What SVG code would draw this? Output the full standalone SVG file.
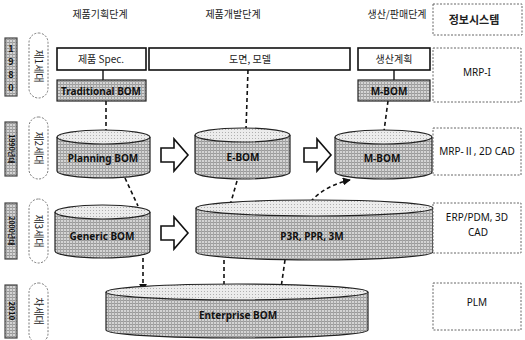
<svg xmlns="http://www.w3.org/2000/svg" width="525" height="340" viewBox="0 0 525 340">
  <style>
    .hdr { font-family: "Noto Sans CJK KR", "Noto Sans", sans-serif; font-size: 10px; fill: #222; text-anchor: middle; }
    .lbl { font-family: "Noto Sans", "Noto Sans CJK KR", sans-serif; font-size: 10px; fill: #111; text-anchor: middle; }
    .bold { font-weight: bold; }
    .box { fill: #fff; stroke: #111; stroke-width: 1.6; }
    .tex { fill: url(#dither); stroke: #222; stroke-width: 1.2; }
    .texTop { fill: url(#ditherLight); stroke: #222; stroke-width: 1.2; }
    .info { fill: #fff; stroke: #666; stroke-width: 1; stroke-dasharray: 2 1.5; }
    .pill { fill: #fff; stroke: #777; stroke-width: 1; stroke-dasharray: 2 1.5; }
    .year { fill: url(#dither); stroke: #444; stroke-width: 1.2; }
    .yr { font-family: "Noto Sans CJK KR", "Noto Sans", sans-serif; font-size: 7px; font-weight: bold; fill: #111; text-anchor: middle; }
    .dash { fill: none; stroke: #111; stroke-width: 1.6; stroke-dasharray: 4 3; }
    .solid { fill: none; stroke: #111; stroke-width: 1.4; }
    .barrow { fill: #fff; stroke: #111; stroke-width: 1.6; stroke-linejoin: miter; }
  </style>
  <defs>
    <pattern id="dither" width="3" height="3" patternUnits="userSpaceOnUse">
      <rect width="3" height="3" fill="#d4d4d4"/>
      <rect width="3" height="1" fill="#9a9a9a"/>
      <rect width="1" height="3" fill="#a6a6a6"/>
    </pattern>
    <pattern id="ditherLight" width="3" height="3" patternUnits="userSpaceOnUse">
      <rect width="3" height="3" fill="#ececec"/>
      <rect width="1" height="1" fill="#b0b0b0"/>
    </pattern>
    <marker id="ah" viewBox="0 0 10 10" refX="9" refY="5" markerWidth="5" markerHeight="5" orient="auto">
      <path d="M0,0 L10,5 L0,10 z" fill="#111"/>
    </marker>
  </defs>

  <!-- stage headers -->
  <g id="headers">
    <text class="hdr" x="100" y="18">제품기획단계</text>
    <text class="hdr" x="233" y="18">제품개발단계</text>
    <text class="hdr" x="397" y="18">생산/판매단계</text>
  </g>

  <!-- generation column -->
  <g id="gen1">
    <rect class="year" x="5" y="38" width="12" height="58"/>
    <text class="yr" style="font-size:9px" x="11" y="52">1</text>
    <text class="yr" style="font-size:9px" x="11" y="65">9</text>
    <text class="yr" style="font-size:9px" x="11" y="78">8</text>
    <text class="yr" style="font-size:9px" x="11" y="91">0</text>
    <rect class="pill" x="29" y="33" width="19" height="65" rx="9.5"/>
    <text class="hdr" transform="translate(35,66) rotate(90)">제1세대</text>
  </g>
  <g id="gen2">
    <rect class="year" x="5" y="122" width="12" height="54"/>
    <text class="yr" transform="translate(8.5,149) rotate(90)">1990년대</text>
    <rect class="pill" x="29" y="117" width="19" height="62" rx="9.5"/>
    <text class="hdr" transform="translate(35,148) rotate(90)">제2세대</text>
  </g>
  <g id="gen3">
    <rect class="year" x="5" y="203" width="12" height="56"/>
    <text class="yr" transform="translate(8.5,231) rotate(90)">2000년대</text>
    <rect class="pill" x="29" y="199" width="19" height="64" rx="9.5"/>
    <text class="hdr" transform="translate(35,231) rotate(90)">제3세대</text>
  </g>
  <g id="gen4">
    <rect class="year" x="5" y="285" width="12" height="53"/>
    <text class="yr" style="font-size:8px" transform="translate(8.5,311) rotate(90)">2010</text>
    <rect class="pill" x="29" y="283" width="19" height="60" rx="9.5"/>
    <text class="hdr" transform="translate(35,311) rotate(90)">차세대</text>
  </g>

  <!-- connectors -->
  <g id="connectors">
    <line class="solid" x1="103" y1="70" x2="103" y2="80"/>
    <line class="solid" x1="394" y1="70" x2="394" y2="80"/>
    <line class="dash" x1="106" y1="101" x2="106" y2="131"/>
    <line class="dash" x1="248" y1="70" x2="246" y2="129"/>
    <line class="dash" x1="388" y1="101" x2="384" y2="131"/>
    <line class="dash" x1="125" y1="178" x2="138" y2="206"/>
    <line class="dash" x1="237" y1="181" x2="229" y2="209"/>
    <path class="dash" d="M306,207 Q322,186 350,180" marker-end="url(#ah)"/>
    <line class="dash" x1="143" y1="258" x2="143" y2="291" marker-end="url(#ah)"/>
    <line class="dash" x1="224" y1="260" x2="224" y2="295" marker-end="url(#ah)"/>
    <line class="dash" x1="285" y1="260" x2="280" y2="295" marker-end="url(#ah)"/>
    <!-- block arrows -->
    <path class="barrow" d="M161,148 H174 V139 L188,155 L174,171 V162 H161 Z"/>
    <path class="barrow" d="M304,148 H317 V139 L331,155 L317,171 V162 H304 Z"/>
    <path class="barrow" d="M161,226 H174 V217 L188,233 L174,249 V240 H161 Z"/>
  </g>

  <!-- first generation boxes -->
  <g id="spec">
    <rect class="box" x="57" y="48" width="89" height="22"/>
    <text class="hdr" x="101" y="63">제품 Spec.</text>
  </g>
  <g id="drawing">
    <rect class="box" x="149" y="48" width="201" height="22"/>
    <text class="hdr" x="250" y="63">도면, 모델</text>
  </g>
  <g id="plan">
    <rect class="box" x="358" y="48" width="72" height="22"/>
    <text class="hdr" x="394" y="63">생산계획</text>
  </g>
  <g id="tradBom">
    <rect class="tex" x="57" y="80" width="89" height="21"/>
    <text class="lbl bold" x="101" y="94.5" textLength="80" lengthAdjust="spacingAndGlyphs">Traditional BOM</text>
  </g>
  <g id="mBom1">
    <rect class="tex" x="358" y="80" width="72" height="21"/>
    <text class="lbl bold" x="389" y="94.5">M-BOM</text>
  </g>

  <!-- second generation cylinders -->
  <g id="planningBom">
    <path class="tex" d="M57,137 V171 A46.5,7 0 0 0 150,171 V137"/>
    <ellipse class="texTop" cx="103.5" cy="137" rx="46.5" ry="7"/>
    <text class="lbl bold" x="103" y="162">Planning BOM</text>
  </g>
  <g id="eBom">
    <path class="tex" d="M195,135 V172 A47.5,7 0 0 0 290,172 V135"/>
    <ellipse class="texTop" cx="242.5" cy="135" rx="47.5" ry="7"/>
    <text class="lbl bold" x="243" y="161">E-BOM</text>
  </g>
  <g id="mBom2">
    <path class="tex" d="M335,137 V172 A48.5,7 0 0 0 432,172 V137"/>
    <ellipse class="texTop" cx="383.5" cy="137" rx="48.5" ry="7"/>
    <text class="lbl bold" x="382" y="162">M-BOM</text>
  </g>

  <!-- third generation cylinders -->
  <g id="genericBom">
    <path class="tex" d="M55,212 V251 A47.5,7 0 0 0 150,251 V212"/>
    <ellipse class="texTop" cx="102.5" cy="212" rx="47.5" ry="7"/>
    <text class="lbl bold" x="102" y="240">Generic BOM</text>
  </g>
  <g id="p3r">
    <path class="tex" d="M196,208 V252 A118.5,8 0 0 0 433,252 V208"/>
    <ellipse class="texTop" cx="314.5" cy="208" rx="118.5" ry="8"/>
    <text class="lbl bold" x="312" y="240">P3R, PPR, 3M</text>
  </g>

  <!-- next generation cylinder -->
  <g id="enterpriseBom">
    <path class="tex" d="M106,292 V330 A131,8 0 0 0 368,330 V292"/>
    <ellipse class="texTop" cx="237" cy="292" rx="131" ry="8"/>
    <text class="lbl bold" x="238" y="319">Enterprise BOM</text>
  </g>

  <!-- information systems column -->
  <g id="infoHeader">
    <rect class="info" x="433" y="4" width="89" height="31"/>
    <text class="hdr bold" style="font-size:11px" x="474" y="24">정보시스템</text>
  </g>
  <g id="info1">
    <rect class="info" x="433" y="48" width="88" height="54"/>
    <text class="lbl" x="477" y="76">MRP-I</text>
  </g>
  <g id="info2">
    <rect class="info" x="433" y="128" width="88" height="47"/>
    <text class="lbl" x="477" y="155">MRP-Ⅱ, 2D CAD</text>
  </g>
  <g id="info3">
    <rect class="info" x="433" y="203" width="88" height="50"/>
    <text class="lbl" x="477" y="221">ERP/PDM, 3D</text>
    <text class="lbl" x="478" y="236">CAD</text>
  </g>
  <g id="info4">
    <rect class="info" x="433" y="283" width="88" height="47"/>
    <text class="lbl" x="477" y="306">PLM</text>
  </g>
</svg>
